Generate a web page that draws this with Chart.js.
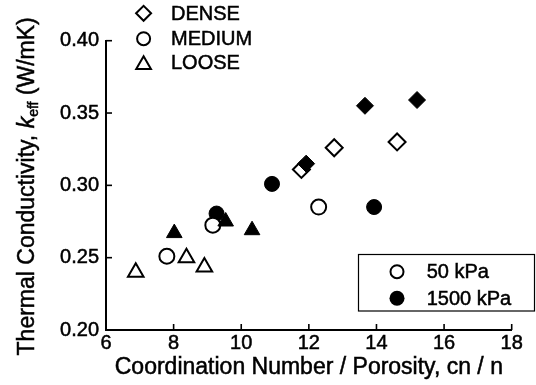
<!DOCTYPE html>
<html>
<head>
<meta charset="utf-8">
<script src="https://cdn.jsdelivr.net/npm/chart.js@4.4.1/dist/chart.umd.min.js"></script>
<style>
  html, body { margin: 0; padding: 0; background: #fff; }
  #wrap { width: 536px; height: 385px; }
</style>
</head>
<body>
<div id="wrap"><canvas id="kChart" width="536" height="385"></canvas></div>
<script>
// valeurs : cn/n et k_eff
const cnDense50 = [11.78, 12.75, 14.61]
const kDense50 = [0.311, 0.326, 0.330]
const cnDense1500 = [11.92, 13.66, 15.20]
const kDense1500 = [0.315, 0.355, 0.359]
const cnMedium50 = [7.80, 9.16, 12.29]
const kMedium50 = [0.251, 0.2725, 0.285]
const cnMedium1500 = [9.27, 10.91, 13.93]
const kMedium1500 = [0.2805, 0.301, 0.285]
const cnLoose50 = [6.88, 8.38, 8.91]
const kLoose50 = [0.240, 0.250, 0.2435]
const cnLoose1500 = [8.02, 9.54, 10.32]
const kLoose1500 = [0.267, 0.275, 0.269]

const xTicks = [6, 8, 10, 12, 14, 16, 18]
const yTicks = [0.20, 0.25, 0.30, 0.35, 0.40]

const FONT = "'Liberation Sans', Arial, Helvetica, sans-serif"
const EPAIS = 0.5 // léger contour du texte pour l'épaisseur

function pts(xs, ys) {
    return xs.map((x, i) => ({ x: x, y: ys[i] }))
}

function serie(label, xs, ys, style, filled, order) {
    let r = style === 'circle' ? 7.5 : (style === 'triangle' ? 9 : 8.5)
    return {
        label: label,
        data: pts(xs, ys),
        pointStyle: style,
        pointRadius: r,
        pointHoverRadius: r,
        backgroundColor: filled ? '#000' : '#fff',
        borderColor: '#000',
        borderWidth: filled ? 1 : 2,
        order: order
    }
}

function drawShape(ctx, style, x, y, r) {
    if (style === 'circle') {
        ctx.arc(x, y, r, 0, Math.PI * 2)
    } else if (style === 'rectRot') {
        ctx.moveTo(x - r, y)
        ctx.lineTo(x, y - r)
        ctx.lineTo(x + r, y)
        ctx.lineTo(x, y + r)
        ctx.closePath()
    } else {
        const a = Math.PI * 2 / 3
        ctx.moveTo(x, y - r)
        ctx.lineTo(x + Math.sin(a) * r, y - Math.cos(a) * r)
        ctx.lineTo(x + Math.sin(2 * a) * r, y - Math.cos(2 * a) * r)
        ctx.closePath()
    }
}

function texte(ctx, t, x, y) {
    ctx.fillText(t, x, y)
    ctx.strokeText(t, x, y)
}

// petits traits de graduation vers l'intérieur + titres des axes + légendes
const decorPlugin = {
    id: 'decor',
    afterDraw(chart) {
        const ctx = chart.ctx
        const xs = chart.scales.x
        const ys = chart.scales.y
        const area = chart.chartArea
        ctx.save()
        ctx.strokeStyle = '#000'
        ctx.lineWidth = 1.6
        xTicks.forEach(v => {
            const px = xs.getPixelForValue(v)
            ctx.beginPath()
            ctx.moveTo(px, area.bottom)
            ctx.lineTo(px, area.bottom - 6)
            ctx.stroke()
        })
        yTicks.forEach(v => {
            const py = ys.getPixelForValue(v)
            ctx.beginPath()
            ctx.moveTo(area.left, py)
            ctx.lineTo(area.left + 6, py)
            ctx.stroke()
        })

        // titre axe x
        ctx.fillStyle = '#000'
        ctx.lineWidth = EPAIS
        ctx.font = '23px ' + FONT
        ctx.textAlign = 'center'
        ctx.textBaseline = 'middle'
        texte(ctx, 'Coordination Number / Porosity, cn / n', (area.left + area.right) / 2, 368)

        // titre axe y avec k italique et indice "eff"
        ctx.save()
        ctx.translate(25.6, (area.top + area.bottom) / 2 + 1)
        ctx.rotate(-Math.PI / 2)
        ctx.textAlign = 'left'
        ctx.textBaseline = 'alphabetic'
        const partA = 'Thermal Conductivity, '
        const partD = ' (W/mK)'
        ctx.font = '23px ' + FONT
        const wA = ctx.measureText(partA).width
        const wD = ctx.measureText(partD).width
        ctx.font = 'italic 23px ' + FONT
        const wB = ctx.measureText('k').width
        ctx.font = '14px ' + FONT
        const wC = ctx.measureText('eff').width
        let x0 = -(wA + wB + wC + wD) / 2
        const base = 8.2
        ctx.font = '23px ' + FONT
        texte(ctx, partA, x0, base)
        x0 += wA
        ctx.font = 'italic 23px ' + FONT
        texte(ctx, 'k', x0, base)
        x0 += wB
        ctx.font = '14px ' + FONT
        texte(ctx, 'eff', x0, base + 4)
        x0 += wC
        ctx.font = '23px ' + FONT
        texte(ctx, partD, x0, base)
        ctx.restore()

        // légende des formes (en haut)
        const shapes = [['rectRot', 'DENSE', 13.3, 7.5], ['circle', 'MEDIUM', 38.7, 6.5], ['triangle', 'LOOSE', 62.7, 8.5]]
        ctx.fillStyle = '#fff'
        ctx.strokeStyle = '#000'
        ctx.lineWidth = 2
        shapes.forEach(s => {
            ctx.beginPath()
            drawShape(ctx, s[0], 143.6, s[0] === 'triangle' ? s[2] + 2 : s[2], s[3])
            ctx.fill()
            ctx.stroke()
        })
        ctx.fillStyle = '#000'
        ctx.lineWidth = EPAIS
        ctx.font = '20px ' + FONT
        ctx.textAlign = 'left'
        ctx.textBaseline = 'middle'
        shapes.forEach(s => texte(ctx, s[1], 171, s[2] + 1))

        // légende des pressions (en bas à droite)
        ctx.lineWidth = 1.2
        ctx.strokeRect(358.5, 254.5, 176, 56.5)
        ctx.lineWidth = 2
        ctx.fillStyle = '#fff'
        ctx.beginPath()
        ctx.arc(397, 271.7, 6.5, 0, Math.PI * 2)
        ctx.fill()
        ctx.stroke()
        ctx.fillStyle = '#000'
        ctx.beginPath()
        ctx.arc(397, 298.3, 7.5, 0, Math.PI * 2)
        ctx.fill()
        ctx.lineWidth = EPAIS
        texte(ctx, '50 kPa', 426.7, 272.5)
        texte(ctx, '1500 kPa', 426.7, 299)
        ctx.restore()
    }
}

function buildChart() {
    const canvas = document.getElementById('kChart')
    new Chart(canvas, {
        type: 'scatter',
        data: {
            datasets: [
                serie('DENSE 1500 kPa', cnDense1500, kDense1500, 'rectRot', true, 1),
                serie('DENSE 50 kPa', cnDense50, kDense50, 'rectRot', false, 2),
                serie('LOOSE 1500 kPa', cnLoose1500, kLoose1500, 'triangle', true, 3),
                serie('MEDIUM 50 kPa', cnMedium50, kMedium50, 'circle', false, 4),
                serie('MEDIUM 1500 kPa', cnMedium1500, kMedium1500, 'circle', true, 5),
                serie('LOOSE 50 kPa', cnLoose50, kLoose50, 'triangle', false, 6)
            ]
        },
        options: {
            responsive: false,
            animation: false,
            devicePixelRatio: 1,
            layout: { padding: { left: 0, right: 24.3, top: 40.7, bottom: 0 } },
            plugins: {
                legend: { display: false },
                tooltip: { enabled: false }
            },
            scales: {
                x: {
                    type: 'linear',
                    min: 6,
                    max: 18,
                    afterFit(scale) { scale.height = 55 },
                    afterBuildTicks(scale) { scale.ticks = xTicks.map(v => ({ value: v })) },
                    grid: { display: false, drawTicks: false },
                    border: { display: true, color: '#000', width: 2 },
                    ticks: {
                        padding: 1,
                        color: '#000',
                        textStrokeColor: '#000',
                        textStrokeWidth: EPAIS,
                        font: { family: FONT, size: 20 },
                        maxRotation: 0
                    }
                },
                y: {
                    type: 'linear',
                    min: 0.20,
                    max: 0.40,
                    afterFit(scale) { scale.width = 106 },
                    afterBuildTicks(scale) { scale.ticks = yTicks.map(v => ({ value: v })) },
                    grid: { display: false, drawTicks: false },
                    border: { display: true, color: '#000', width: 2 },
                    ticks: {
                        padding: 7,
                        color: '#000',
                        textStrokeColor: '#000',
                        textStrokeWidth: EPAIS,
                        font: { family: FONT, size: 20 },
                        callback: v => v.toFixed(2)
                    }
                }
            }
        },
        plugins: [decorPlugin]
    })
}

buildChart()
</script>
</body>
</html>
